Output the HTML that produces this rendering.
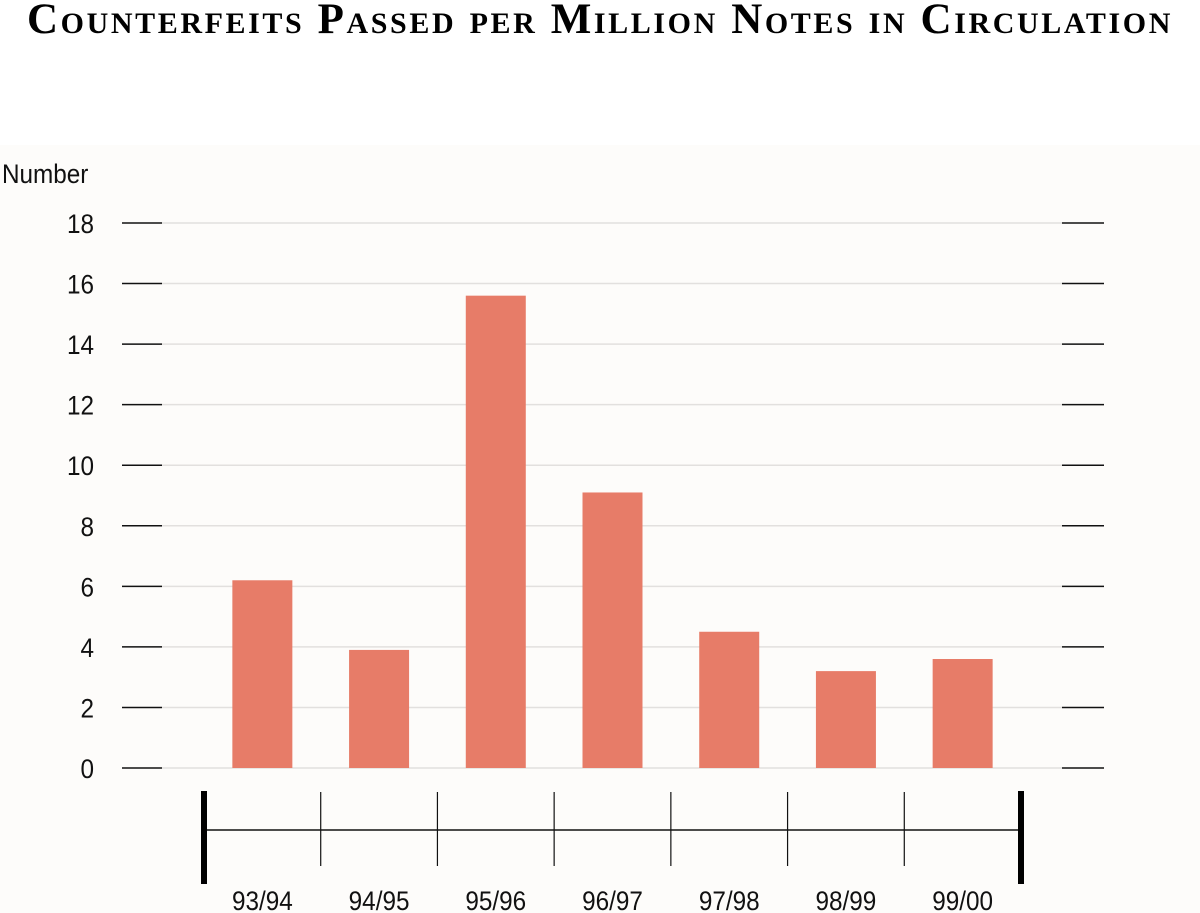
<!DOCTYPE html>
<html><head><meta charset="utf-8"><style>
html,body{margin:0;padding:0;background:#fff;}
body{width:1200px;height:913px;position:relative;overflow:hidden;}
#title{position:absolute;left:0;top:-5px;width:1200px;text-align:center;font-family:"Liberation Serif",serif;font-weight:bold;font-variant:small-caps;font-size:43px;line-height:50px;letter-spacing:2.6px;white-space:nowrap;color:#000;}
#bg{position:absolute;left:0;top:145px;width:1200px;height:768px;background:#fdfcfa;}
svg{position:absolute;left:0;top:0;}
text{font-family:"Liberation Sans",sans-serif;font-size:27px;fill:#111;}
</style></head><body>
<div id="title">Counterfeits Passed per Million Notes in Circulation</div>
<div id="bg"></div>
<svg id="chart" width="1200" height="913"></svg>
<script>
const categories=["93/94","94/95","95/96","96/97","97/98","98/99","99/00"];
const values=[6.2,3.9,15.6,9.1,4.5,3.2,3.6];
const yTicks=[0,2,4,6,8,10,12,14,16,18];
const NS="http://www.w3.org/2000/svg";
const svg=document.getElementById('chart');
const y0=768,y1=223,ymax=18;
function y(v){return y0-(y0-y1)*v/ymax;}
const xL=204,xR=1021,step=(xR-xL)/categories.length;
function xc(i){return xL+step*(i+0.5);}
function mk(tag,attrs){const e=document.createElementNS(NS,tag);for(const k in attrs)e.setAttribute(k,attrs[k]);svg.appendChild(e);return e;}
function txt(x,yy,anchor,s){const t=mk('text',{x:0,y:0,'text-anchor':anchor,transform:'translate('+x+','+yy+') scale(0.9,1)'});t.textContent=s;return t;}
const yl=txt(2,183,'start',"Number");


yTicks.forEach(t=>{
  const g=mk('line',{x1:162,x2:1062,y1:y(t),y2:y(t),stroke:'#e2e0de','stroke-width':1.5});
  
  
  const a=mk('line',{x1:122,x2:162,y1:y(t),y2:y(t),stroke:'#111','stroke-width':1.5});
  
  
  const b=mk('line',{x1:1062,x2:1104,y1:y(t),y2:y(t),stroke:'#111','stroke-width':1.5});
  
  
  const l=txt(94,y(t)+10,'end',String(t));
  
  
});
const bw=60;
values.forEach((v,i)=>{
  const r=mk('rect',{x:xc(i)-bw/2,y:y(v),width:bw,height:y0-y(v),fill:'#e77c68'});
  
  
});
const h=mk('line',{x1:xL,x2:xR,y1:830,y2:830,stroke:'#111','stroke-width':1.5});


[xL,xR].forEach(x=>{
  const e=mk('line',{x1:x,x2:x,y1:791,y2:884,stroke:'#000','stroke-width':6});
  
  
});
for(let i=1;i<categories.length;i++){
  const d=mk('line',{x1:xL+step*i,x2:xL+step*i,y1:792,y2:866,stroke:'#111','stroke-width':1.2});
  
  
}
categories.forEach((c,i)=>{
  const t=txt(xc(i),910,'middle',c);
  
  
});
</script>
</body></html>
